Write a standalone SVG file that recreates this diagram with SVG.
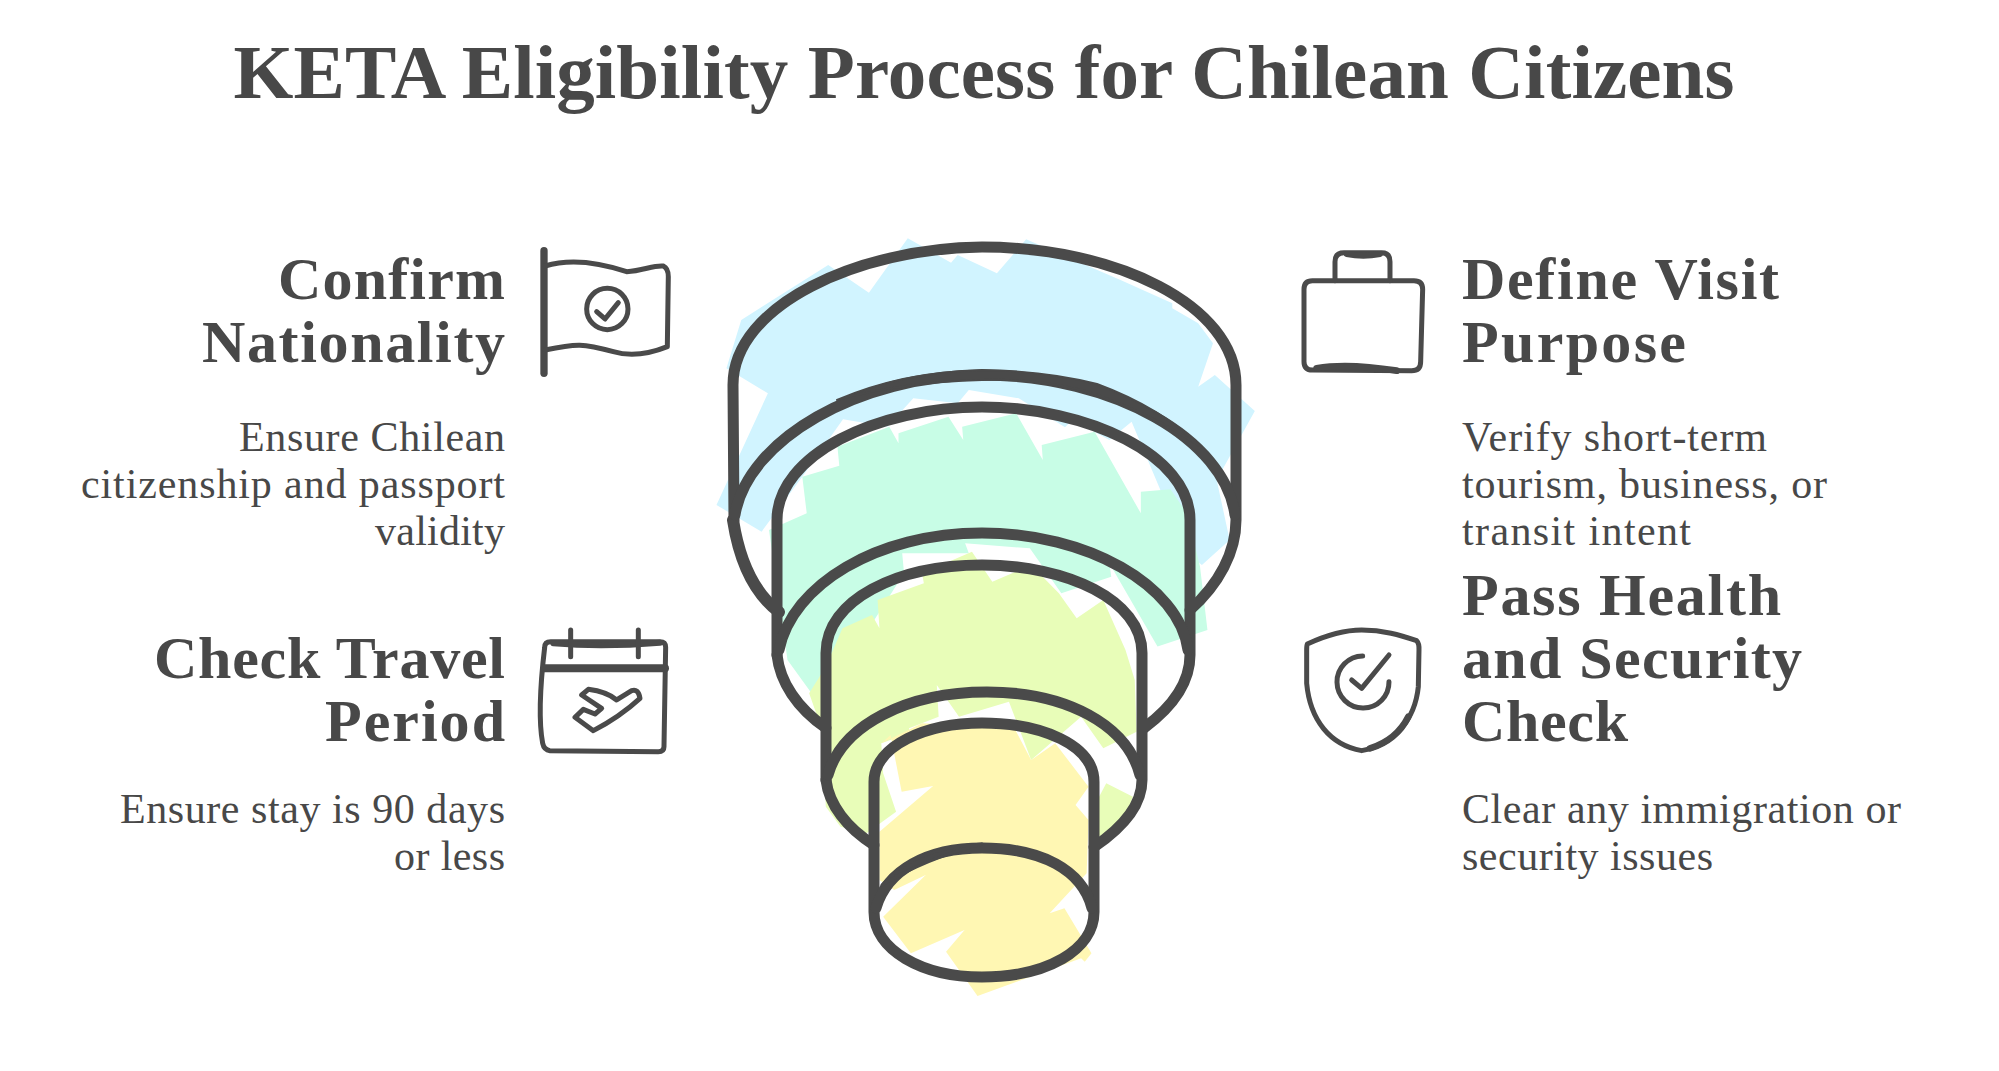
<svg xmlns="http://www.w3.org/2000/svg" width="1999" height="1071" viewBox="0 0 1999 1071">
<style>
.t{font-family:"Liberation Serif",serif;fill:#484848}
.title{font-size:77px;font-weight:700}
.h{font-size:60px;font-weight:700}
.b{font-size:42px}
.e{text-anchor:end}
.s{fill:none;stroke:#4a4a4a;stroke-width:11;stroke-linecap:round;stroke-linejoin:round}
.i{fill:none;stroke:#4a4a4a;stroke-width:15;stroke-linecap:round;stroke-linejoin:round}
</style>
<rect width="1999" height="1071" fill="#fff"/>
<text class="t title" x="984" y="98" text-anchor="middle" textLength="1501">KETA Eligibility Process for Chilean Citizens</text>

<g id="funnel-fills" transform="translate(-3 0)">
<polygon transform="translate(705.4 220) scale(.37 .3333)" fill="#d1f4ff" points="105,300 340,135 450,218 555,55 672,128 690,105 796,160 875,58 1130,180 1270,250 1270,265 1340,310 1380,370 1340,500 1385,465 1493,573 1390,780 1425,960 1350,1035 1310,1000 1160,605 1100,660 1000,600 980,622 855,535 720,510 690,550 570,535 500,620 380,598 270,770 160,935 38,855 177,520 65,445"/>
<polygon transform="translate(705.4 220) scale(.37 .3333)" fill="#c8fde6" points="180,930 282,880 270,770 370,737 365,680 505,620 530,670 530,640 665,590 705,660 702,620 848,580 920,720 917,675 1060,635 1185,880 1185,815 1265,808 1310,880 1345,1040 1365,1230 1230,1280 1100,1030 1105,1070 970,1120 885,985 710,970 720,1000 540,1000 545,1060 470,1190 365,1375 295,1420 230,1320"/>
<polygon transform="translate(703 600) scale(.37 .3333)" fill="#e8fdb8" points="295,280 340,200 385,85 465,45 485,85 480,0 605,-50 600,-80 735,-145 790,-55 895,-105 970,-20 1018,55 1090,0 1150,150 1175,240 1180,395 1090,445 1030,350 895,480 835,305 700,350 640,255 645,350 565,385 565,400 490,430 495,520 530,635 450,700 380,680 340,620 330,390"/>
<polygon transform="translate(703 600) scale(.37 .3333)" fill="#e8fdb8" points="1098,550 1170,590 1150,650 1080,710 1050,650"/>
<polygon transform="translate(703 600) scale(.37 .3333)" fill="#fff7b3" points="490,430 515,405 545,575 630,558 485,695 485,840 525,870 610,825 495,950 570,1060 715,990 665,1055 750,1188 1030,1075 1040,1085 1058,1060 985,925 945,940 1045,820 1050,660 1015,615 1050,560 960,430 895,480 850,385 600,370"/>
</g>

<g id="cylinder-1" class="s" transform="translate(-3 0)">
<path d="M737 520L736 385C736 305 862 248 985 247C1118 247 1239 305 1239 385L1239 520C1239 552 1222 584 1193 610"/>
<path d="M736 520C741 552 753 590 782 612" stroke-width="12"/>
<path d="M738 515C750 440 862 375 985 375C1118 375 1228 440 1238 515"/>
<path d="M840 400Q905 372 985 370Q1050 371 1100 384Q1165 408 1205 448Q1150 410 1085 390Q1035 378 985 380Q905 382 840 400Z" fill="#4a4a4a" stroke-width="2"/>
</g>
<g id="cylinder-2" class="s" transform="translate(-3 0)">
<path d="M780 655L780 520C780 455 880 407 985 407C1090 407 1193 455 1193 520L1193 655C1193 680 1178 705 1147 728"/>
<path d="M780 655C783 682 800 708 829 728"/>
<path d="M782 650C795 585 880 533 985 533C1090 533 1182 585 1191 650"/>
</g>
<g id="cylinder-3" class="s" transform="translate(-3 0)">
<path d="M829 780L829 653C829 600 900 565 985 565C1070 565 1145 600 1145 653L1145 780C1145 805 1125 828 1097 847"/>
<path d="M829 780C832 805 850 828 877 845"/>
<path d="M831 775C845 725 910 692 990 692C1070 692 1130 725 1143 775"/>
</g>
<g id="cylinder-4" class="s" transform="translate(-3 0)">
<path d="M877 912L877 782C877 745 930 723 985 723C1045 723 1097 745 1097 782L1097 912C1097 950 1050 977 985 977C925 977 877 950 877 912Z"/>
<path d="M879 908C890 870 930 848 985 848C1045 848 1085 870 1095 908"/>
<path d="M885 885Q915 848 985 844Q930 858 885 885Z" fill="#4a4a4a" stroke-width="3"/>
</g>

<g id="node-confirm-nationality">
<text class="t h e" x="505" y="299" textLength="227">Confirm</text>
<text class="t h e" x="505" y="362" textLength="303">Nationality</text>
<text class="t b e" x="505" y="451" textLength="266">Ensure Chilean</text>
<text class="t b e" x="505" y="498" textLength="424">citizenship and passport</text>
<text class="t b e" x="505" y="545" textLength="130">validity</text>
<g transform="translate(520 240) scale(.3333)" class="i">
<path d="M72 32L72 400" stroke-width="22"/>
<path d="M75 78C150 55 230 65 320 95C370 92 400 75 430 78Q445 85 445 110L442 320C380 345 330 350 280 335C190 310 170 310 75 330"/>
<circle cx="262" cy="207" r="62"/>
<path d="M230 215L255 237L295 188"/>
</g>
</g>

<g id="node-check-travel-period">
<text class="t h e" x="505" y="678" textLength="351">Check Travel</text>
<text class="t h e" x="505" y="741" textLength="180">Period</text>
<text class="t b e" x="505" y="823" textLength="385">Ensure stay is 90 days</text>
<text class="t b e" x="505" y="870" textLength="111">or less</text>
<g transform="translate(520 620) scale(.3333)" class="i">
<path d="M92 65L420 65Q437 65 437 82L432 380Q432 395 415 395L90 392Q72 390 68 370C55 300 60 200 74 82Q74 65 92 65Z"/>
<path d="M74 145L435 145" stroke-width="24"/>
<path d="M100 70Q250 82 420 68" stroke-width="18"/>
<path d="M152 30L152 110M355 30L355 110"/>
<path d="M185 225L205 208Q260 215 290 240L335 212Q355 205 360 235Q300 290 220 332L165 292L190 268L225 282L245 265Z"/>
</g>
</g>

<g id="node-define-visit-purpose">
<text class="t h" x="1462" y="299" textLength="317">Define Visit</text>
<text class="t h" x="1462" y="362" textLength="224">Purpose</text>
<text class="t b" x="1462" y="451" textLength="305">Verify short-term</text>
<text class="t b" x="1462" y="498" textLength="365">tourism, business, or</text>
<text class="t b" x="1462" y="545" textLength="229">transit intent</text>
<g transform="translate(1290 240) scale(.3333)" class="i">
<path d="M67 122L372 122Q398 122 398 148L392 365Q392 392 365 392L67 390Q42 390 42 365L42 148Q42 122 67 122Z"/>
<path d="M135 122L135 65Q135 38 162 38L275 38Q300 38 300 65L300 122"/>
<path d="M80 385Q170 368 320 392" stroke-width="20"/>
<path d="M170 42Q220 52 270 42" stroke-width="18"/>
</g>
</g>

<g id="node-pass-health-security">
<text class="t h" x="1462" y="615" textLength="319">Pass Health</text>
<text class="t h" x="1462" y="678" textLength="340">and Security</text>
<text class="t h" x="1462" y="741" textLength="166">Check</text>
<text class="t b" x="1462" y="823" textLength="439">Clear any immigration or</text>
<text class="t b" x="1462" y="870" textLength="251">security issues</text>
<g transform="translate(1290 620) scale(.3333)" class="i">
<path d="M52 72C110 45 160 30 215 30C280 30 330 45 380 62Q388 70 387 90L385 200C375 300 310 375 215 392C120 375 60 300 50 190L50 90Q50 76 52 72Z"/>
<path d="M218 108A78 78 0 1 0 297 185"/>
<path d="M185 180L215 205L297 105"/>
<path d="M240 385Q320 360 355 290" stroke-width="20"/>
</g>
</g>
</svg>
